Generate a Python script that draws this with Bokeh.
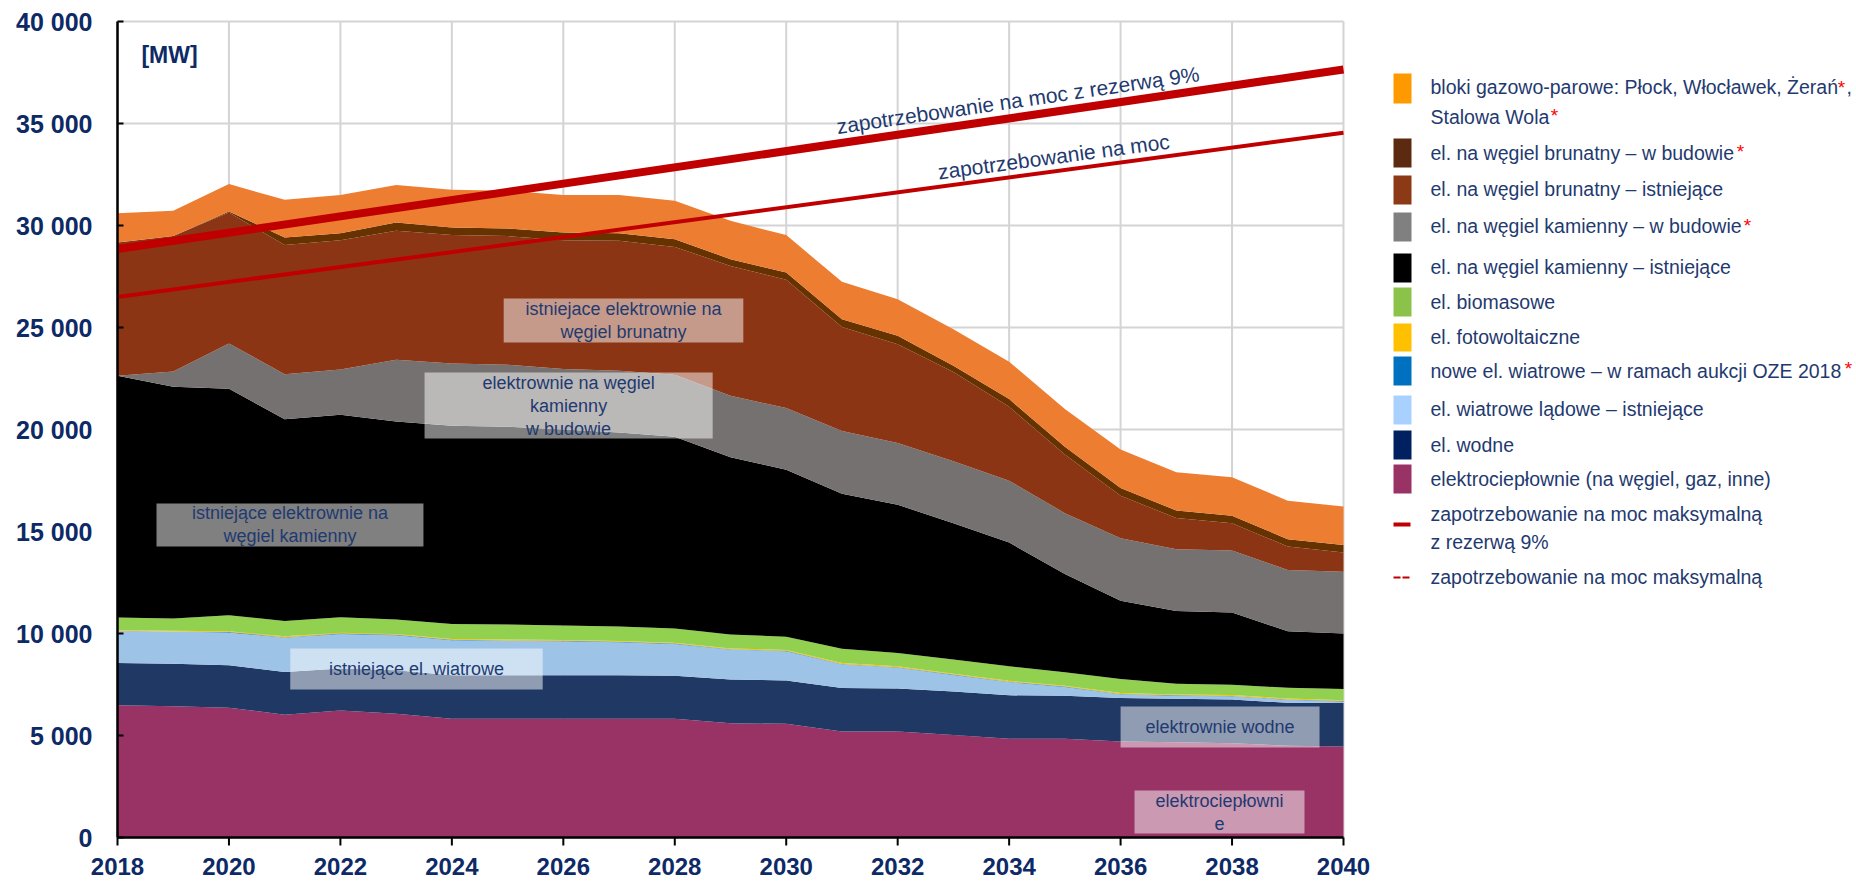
import math
from bokeh.plotting import figure
from bokeh.models import ColumnDataSource, Range1d
from bokeh.layouts import row
from bokeh.embed import file_html
from bokeh.resources import INLINE
from bokeh.core.properties import value

# ---------------- data (MW) ----------------
years = list(range(2018, 2041))

chp = [6480, 6430, 6360, 6020, 6230, 6070, 5820, 5820, 5820, 5820, 5820, 5600,
       5570, 5200, 5200, 5030, 4840, 4840, 4700, 4670, 4620, 4500, 4460]
hydro = [2080, 2090, 2080, 2090, 2050, 2130, 2130, 2130, 2130, 2130, 2110, 2140,
         2130, 2130, 2100, 2130, 2130, 2110, 2140, 2130, 2150, 2100, 2130]
wind_onshore = [1570, 1580, 1610, 1690, 1700, 1720, 1720, 1690, 1670, 1620, 1560, 1470,
                1430, 1160, 1030, 810, 650, 430, 180, 150, 150, 150, 80]
wind_new = [0, 0, 20, 20, 20, 20, 20, 20, 20, 20, 20, 20,
            20, 20, 20, 20, 20, 20, 20, 20, 20, 20, 20]
pv = [40, 40, 40, 40, 40, 40, 40, 40, 40, 40, 40, 40,
      40, 40, 40, 40, 40, 40, 40, 40, 40, 40, 40]
biomass = [620, 600, 790, 750, 760, 710, 730, 740, 710, 710, 700, 680,
           650, 700, 660, 690, 710, 660, 690, 530, 510, 530, 550]
hard_coal = [11840, 11360, 11100, 9890, 9920, 9700, 9720, 9690, 9610, 9510, 9400, 8690,
             8190, 7600, 7260, 6690, 6070, 4820, 3840, 3560, 3540, 2770, 2720]
hard_coal_new = [0, 740, 2220, 2210, 2220, 3030, 3060, 3040, 2960, 3030, 3030, 3010,
                 3020, 3080, 3030, 3030, 3030, 2980, 3060, 3030, 3040, 3000, 3030]
lignite = [6540, 6650, 6420, 6330, 6340, 6320, 6290, 6310, 6320, 6370, 6270, 6370,
           6290, 5100, 4840, 4380, 3620, 2870, 2080, 1530, 1340, 1150, 940]
lignite_new = [0, 0, 50, 370, 340, 410, 370, 370, 380, 370, 380, 330,
               360, 380, 420, 300, 380, 380, 380, 370, 360, 360, 370]
ccgt = [1430, 1230, 1340, 1850, 1870, 1840, 1850, 1850, 1840, 1870, 1880, 1880,
        1830, 1830, 1790, 1800, 1830, 1850, 1890, 1870, 1890, 1890, 1890]

demand_years = [2018, 2040]
demand = [26500, 34550]
demand_reserve = [28850, 37650]

x_ticks = [2018, 2020, 2022, 2024, 2026, 2028, 2030, 2032, 2034, 2036, 2038, 2040]
x_labels = ["2018", "2020", "2022", "2024", "2026", "2028", "2030", "2032", "2034",
            "2036", "2038", "2040"]
y_ticks = [0, 5000, 10000, 15000, 20000, 25000, 30000, 35000, 40000]
y_labels = ["0", "5 000", "10 000", "15 000", "20 000", "25 000", "30 000", "35 000", "40 000"]

layer_names = ["chp", "hydro", "wind_onshore", "wind_new", "pv", "biomass",
               "hard_coal", "hard_coal_new", "lignite", "lignite_new", "ccgt"]
layer_colors = ["#993366", "#203864", "#9DC3E6", "#0070C0", "#FFC000", "#92D050",
                "#000000", "#767171", "#8B3515", "#663300", "#ED7D31"]

legend_labels = [
    "bloki gazowo-parowe: Płock, Włocławek, Żerań",
    "el. na węgiel brunatny – w budowie",
    "el. na węgiel brunatny – istniejące",
    "el. na węgiel kamienny – w budowie",
    "el. na węgiel kamienny – istniejące",
    "el. biomasowe",
    "el. fotowoltaiczne",
    "nowe el. wiatrowe – w ramach aukcji OZE 2018",
    "el. wiatrowe lądowe – istniejące",
    "el. wodne",
    "elektrociepłownie (na węgiel, gaz, inne)",
]
legend_colors = ["#FF9900", "#5C2A11", "#8B3A15", "#808080", "#000000", "#8BC34A",
                 "#FFC000", "#0070C0", "#A9D1FF", "#002060", "#993366"]

NAVY = "#0D2A66"
TXT = "#1F3A70"
RED = "#C00000"
GRID = "#D4D4D4"
FONT = value("Liberation Sans")

# ---------------- main chart (frame = whole canvas) ----------------
H = 881
MAIN_W = 1370
LEFT, TOP, FW, FH = 117, 21, 1226, 816   # pixel box of 2018-2040 x 0-40000
X0, X1, Y0, Y1 = 2018, 2040, 0, 40000
ppy = FW / (X1 - X0)
ppm = FH / (Y1 - Y0)

p = figure(width=MAIN_W, height=H, title=None,
           x_range=Range1d(X0 - LEFT / ppy, X1 + (MAIN_W - LEFT - FW) / ppy),
           y_range=Range1d(Y0 - (H - TOP - FH) / ppm, Y1 + TOP / ppm),
           x_axis_location=None, y_axis_location=None,
           output_backend="svg", toolbar_location=None, min_border=0)
p.outline_line_color = None
p.border_fill_color = "white"
p.grid.visible = False

# grid lines
p.segment(x0=x_ticks, y0=[Y0] * len(x_ticks), x1=x_ticks, y1=[Y1] * len(x_ticks),
          line_color=GRID, line_width=2)
p.segment(x0=[X0] * len(y_ticks), y0=y_ticks, x1=[X1] * len(y_ticks), y1=y_ticks,
          line_color=GRID, line_width=2)

src = ColumnDataSource(dict(year=years, chp=chp, hydro=hydro, wind_onshore=wind_onshore,
                            wind_new=wind_new, pv=pv, biomass=biomass, hard_coal=hard_coal,
                            hard_coal_new=hard_coal_new, lignite=lignite,
                            lignite_new=lignite_new, ccgt=ccgt))
p.varea_stack(stackers=layer_names, x="year", color=layer_colors, source=src)

# annotation boxes (year, MW)
boxes = [
    (2024.93, 2029.23, 26420, 24270, "istniejace elektrownie na\nwęgiel brunatny"),
    (2023.51, 2028.68, 22790, 19560, "elektrownie na węgiel\nkamienny\nw budowie"),
    (2018.70, 2023.49, 16370, 14270, "istniejące elektrownie na\nwęgiel kamienny"),
    (2021.10, 2025.63, 9265, 7255, "istniejące el. wiatrowe"),
    (2036.00, 2039.57, 6420, 4410, "elektrownie wodne"),
    (2036.25, 2039.30, 2300, 200, "elektrociepłowni\ne"),
]
p.quad(left=[b[0] for b in boxes], right=[b[1] for b in boxes],
       top=[b[2] for b in boxes], bottom=[b[3] for b in boxes],
       fill_color="white", fill_alpha=0.5, line_color=None)

p.line(demand_years, demand_reserve, line_width=8, line_color=RED)
p.line(demand_years, demand, line_width=4, line_color=RED)

p.text(x=[(b[0] + b[1]) / 2 for b in boxes], y=[(b[2] + b[3]) / 2 for b in boxes],
       text=[b[4] for b in boxes], text_font=FONT, text_font_size="18px",
       text_color=TXT, text_align="center", text_baseline="middle", text_line_height=1.15)

ang_res = math.atan2((demand_reserve[1] - demand_reserve[0]) * ppm,
                     (demand_years[1] - demand_years[0]) * ppy)
ang_dem = math.atan2((demand[1] - demand[0]) * ppm,
                     (demand_years[1] - demand_years[0]) * ppy)
p.text(x=[2034.16], y=[36150], text=["zapotrzebowanie na moc z rezerwą 9%"], angle=ang_res,
       text_font=FONT, text_font_size="21px", text_color=TXT,
       text_align="center", text_baseline="middle")
p.text(x=[2034.8], y=[33380], text=["zapotrzebowanie na moc"], angle=ang_dem,
       text_font=FONT, text_font_size="21px", text_color=TXT,
       text_align="center", text_baseline="middle")
p.text(x=[2018.43], y=[38380], text=["[MW]"], text_font=FONT,
       text_font_size="23px", text_font_style="bold", text_color=NAVY,
       text_align="left", text_baseline="middle")

# axes: lines, ticks and labels
p.segment(x0=[X0, X0], y0=[Y0, Y0], x1=[X1, X0], y1=[Y0, Y1], line_color="black",
          line_width=2.5)
p.segment(x0=x_ticks, y0=[Y0] * len(x_ticks), x1=x_ticks,
          y1=[Y0 - 8 / ppm] * len(x_ticks), line_color="black", line_width=2)
p.segment(x0=[X0] * len(y_ticks), y0=y_ticks, x1=[X0 + 6 / ppy] * len(y_ticks),
          y1=y_ticks, line_color="black", line_width=2)
p.text(x=x_ticks, y=[Y0 - 29 / ppm] * len(x_ticks), text=x_labels, text_font=FONT,
       text_font_size="24px", text_font_style="bold", text_color=NAVY,
       text_align="center", text_baseline="middle")
p.text(x=[X0 - 25 / ppy] * len(y_ticks), y=y_ticks, text=y_labels, text_font=FONT,
       text_font_size="25px", text_font_style="bold", text_color=NAVY,
       text_align="right", text_baseline="middle")

# ---------------- legend panel (coordinates = pixels) ----------------
LW = 1856 - MAIN_W
L = figure(width=LW, height=H, title=None, x_range=Range1d(0, LW), y_range=Range1d(H, 0),
           x_axis_location=None, y_axis_location=None, toolbar_location=None,
           output_backend="svg", min_border=0)
L.outline_line_color = None
L.grid.visible = False

sw_top = [73, 138, 175, 212, 253, 287, 323, 356, 395, 430, 464]
sw_bot = [103, 167, 204, 241, 282, 316, 351, 385, 424, 459, 493]
L.quad(left=[23] * 11, right=[41] * 11, top=sw_top, bottom=sw_bot,
       fill_color=legend_colors, line_color=None)
L.line([23, 40], [524, 524], line_width=4, line_color=RED)
L.line([23, 40], [577, 577], line_width=2, line_color=RED, line_dash="7 2")

row_y = [86.7, 152, 188.7, 225, 266.7, 301, 336, 370, 408.7, 444.7, 478]
LFS = "19.5px"
L.text(x=[60] * 11, y=row_y, text=legend_labels, text_font=FONT, text_font_size=LFS,
       text_color=TXT, text_align="left", text_baseline="middle")
L.text(x=[60, 60, 60, 60], y=[116, 513, 541.7, 576.7],
       text=["Stalowa Wola", "zapotrzebowanie na moc maksymalną", "z rezerwą 9%",
             "zapotrzebowanie na moc maksymalną"],
       text_font=FONT, text_font_size=LFS, text_color=TXT, text_align="left",
       text_baseline="middle")
# red asterisks
L.text(x=[471, 184, 370, 377, 478], y=[87, 115, 150.5, 225, 368],
       text=["*", "*", "*", "*", "*"], text_font=FONT, text_font_size="19px",
       text_color="#FF0000", text_align="center", text_baseline="middle")
L.text(x=[476], y=[86.7], text=[","], text_font=FONT, text_font_size=LFS,
       text_color=TXT, text_align="left", text_baseline="middle")

layout = row(p, L)
open("out.html", "w").write(file_html(layout, INLINE))
